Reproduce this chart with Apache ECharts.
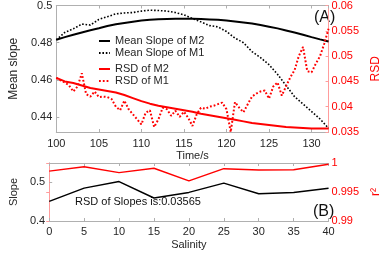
<!DOCTYPE html>
<html><head><meta charset="utf-8">
<script src="https://cdn.jsdelivr.net/npm/echarts@6/dist/echarts.min.js"></script>
<style>html,body{margin:0;padding:0;background:#fff}#c{width:390px;height:254px}</style>
</head><body><div id="c"></div>
<script>
// ---- Panel (A) data ----
const timeA = [100,101,102,103,104,105,106,107,108,109,110,111,112,113,114,115,116,117,118,119,120,121,122,123,124,125,126,127,128,129,130,131,132];
const meanSlopeM2 = [0.4816,0.4830,0.4843,0.4855,0.4867,0.4878,0.4890,0.4899,0.4906,0.4913,0.4919,0.4923,0.4926,0.4928,0.4929,0.4929,0.4929,0.4927,0.4925,0.4923,0.4919,0.4914,0.4909,0.4903,0.4895,0.4886,0.4877,0.4866,0.4855,0.4843,0.4830,0.4818,0.4807];
const meanSlopeM1 = [0.4815,0.4855,0.4875,0.4900,0.4895,0.4925,0.4940,0.4955,0.4960,0.4962,0.4970,0.4975,0.4973,0.4970,0.4962,0.4950,0.4930,0.4912,0.4892,0.4885,0.4860,0.4825,0.4800,0.4752,0.4720,0.4682,0.4630,0.4570,0.4510,0.4470,0.4430,0.4390,0.4340];
const rsdM2 = [0.0457,0.0450,0.0447,0.0442,0.0437,0.0434,0.0431,0.0428,0.0423,0.0417,0.0411,0.0406,0.0402,0.0399,0.0396,0.0393,0.0390,0.0386,0.0383,0.0380,0.0377,0.0374,0.0371,0.0368,0.0366,0.0364,0.0362,0.0360,0.0359,0.0358,0.0357,0.0357,0.0357];
const timeB = [100,100.5,101,101.5,102,102.5,103,103.5,104,104.5,105,105.5,106,106.5,107,107.5,108,108.5,109,109.5,110,110.5,111,111.5,112,112.5,113,113.5,114,114.5,115,115.5,116,116.5,117,117.5,118,118.5,119,119.5,120,120.5,121,121.5,122,122.5,123,123.5,124,124.5,125,125.5,126,126.5,127,127.5,128,128.5,129,129.5,130,130.5,131,131.5,132];
const rsdM1 = [0.0457,0.0452,0.0448,0.0442,0.0430,0.0440,0.0466,0.0425,0.0420,0.0430,0.0419,0.0420,0.0419,0.0415,0.0400,0.0393,0.0412,0.0395,0.0385,0.0375,0.0365,0.0388,0.0393,0.0360,0.0375,0.0398,0.0395,0.0382,0.0392,0.0380,0.0390,0.0378,0.0362,0.0385,0.0398,0.0396,0.0400,0.0402,0.0405,0.0408,0.0395,0.0350,0.0409,0.0398,0.0389,0.0405,0.0420,0.0426,0.0430,0.0432,0.0416,0.0440,0.0448,0.0422,0.0440,0.0458,0.0472,0.0500,0.0518,0.0470,0.0468,0.0485,0.0500,0.0525,0.0554];
const leftTicksA = [0.44,0.46,0.48,0.5];
// ---- Panel (B) data ----
const salinity = [0,5,10,15,20,25,30,35,40];
const slopes = [0.4508,0.485,0.502,0.4595,0.474,0.498,0.4705,0.474,0.485];
const r2 = [0.9986,0.99937,0.99834,0.9991,0.99692,0.99903,0.9988,0.99885,0.9998];
const rsdText = 'RSD of Slopes is:0.03565';

const pairs = (xs, ys) => xs.map((x, i) => [x, ys[i]]);
const FONT = '"Liberation Sans", Arial, sans-serif';
const TXT = '#262626';
const AX = '#b0b0b0';
const RED = '#ff0000';
const RAX = '#ff9c9c';

function xAx(grid, pos, min, max, opts) {
  return Object.assign({
    type: 'value', gridIndex: grid, position: pos, min: min, max: max, interval: 5,
    axisLine: { show: true, onZero: false, lineStyle: { color: AX, width: 1 } },
    axisTick: { show: true, inside: true, length: 3, lineStyle: { color: AX } },
    splitLine: { show: false },
    axisLabel: pos === 'bottom' ? { show: true, color: TXT, fontSize: 11, fontFamily: FONT, margin: 6, showMaxLabel: false } : { show: false }
  }, opts || {});
}

const legendCommon = {
  orient: 'vertical', left: 98, itemWidth: 11, itemHeight: 8, itemGap: 0, padding: 0,
  itemStyle: { opacity: 0 },
  textStyle: { color: TXT, fontSize: 11, fontFamily: FONT, lineHeight: 12 }
};

const chart = echarts.init(document.getElementById('c'), null, { renderer: 'canvas' });
chart.setOption({
  animation: false,
  backgroundColor: '#fff',
  textStyle: { fontFamily: FONT },
  grid: [
    { left: 37, right: 47, top: 5, height: 127 },
    { left: 37, right: 47, top: 163, height: 58 }
  ],
  xAxis: [
    xAx(0, 'bottom', 100, 132, { name: 'Time/s', nameLocation: 'middle', nameGap: 18, nameTextStyle: { color: TXT, fontSize: 11, fontFamily: FONT } }),
    xAx(0, 'top', 100, 132),
    xAx(1, 'bottom', 0, 40, { name: 'Salinity', nameLocation: 'middle', nameGap: 18, nameTextStyle: { color: TXT, fontSize: 11, fontFamily: FONT }, axisLabel: { color: TXT, fontSize: 11, fontFamily: FONT, margin: 5 } }),
    xAx(1, 'top', 0, 40)
  ],
  yAxis: [
    { type: 'value', gridIndex: 0, position: 'left', min: 0.432, max: 0.5,
      name: 'Mean slope', nameLocation: 'middle', nameGap: 24, nameRotate: 90,
      nameTextStyle: { color: TXT, fontSize: 12, fontFamily: FONT },
      axisLine: { show: true, lineStyle: { color: AX } },
      axisTick: { show: true, inside: true, length: 3, customValues: leftTicksA, lineStyle: { color: AX } },
      axisLabel: { color: TXT, fontSize: 11, fontFamily: FONT, margin: 4, customValues: leftTicksA },
      splitLine: { show: false } },
    { type: 'value', gridIndex: 0, position: 'right', min: 0.035, max: 0.06, interval: 0.005,
      name: 'RSD', nameLocation: 'middle', nameGap: 33, nameRotate: 90,
      nameTextStyle: { color: RED, fontSize: 12, fontFamily: FONT },
      axisLine: { show: true, lineStyle: { color: RAX } },
      axisTick: { show: true, inside: true, length: 3, lineStyle: { color: RAX } },
      axisLabel: { color: RED, fontSize: 11, fontFamily: FONT, margin: 3 },
      splitLine: { show: false } },
    { type: 'value', gridIndex: 1, position: 'left', min: 0.4, max: 0.55, interval: 0.1,
      name: 'Slope', nameLocation: 'middle', nameGap: 20, nameRotate: 90,
      nameTextStyle: { color: TXT, fontSize: 11, fontFamily: FONT },
      axisLine: { show: true, lineStyle: { color: AX } },
      axisTick: { show: true, inside: true, length: 3, lineStyle: { color: AX } },
      axisLabel: { color: TXT, fontSize: 11, fontFamily: FONT, margin: 4, showMaxLabel: false },
      splitLine: { show: false } },
    { type: 'value', gridIndex: 1, position: 'right', min: 0.99, max: 1, interval: 0.005,
      name: 'r²', nameLocation: 'middle', nameGap: 34, nameRotate: 90,
      nameTextStyle: { color: RED, fontSize: 12, fontFamily: FONT },
      axisLine: { show: true, lineStyle: { color: RAX } },
      axisTick: { show: true, inside: true, length: 3, lineStyle: { color: RAX } },
      axisLabel: { color: RED, fontSize: 11, fontFamily: FONT, margin: 3 },
      splitLine: { show: false } }
  ],
  legend: [
    Object.assign({ data: ['Mean Slope of M2', 'Mean Slope of M1'], top: 35 }, legendCommon),
    Object.assign({ data: ['RSD of M2', 'RSD of M1'], top: 63 }, legendCommon)
  ],
  graphic: [
    { type: 'text', left: 314, top: 10, style: { text: '(A)', fontSize: 16, fontFamily: FONT, fill: '#111' } },
    { type: 'text', left: 313, top: 204, style: { text: '(B)', fontSize: 16, fontFamily: FONT, fill: '#111' } },
    { type: 'text', left: 75, top: 196, style: { text: rsdText, fontSize: 11, fontFamily: FONT, fill: '#111' } }
  ],
  series: [
    { name: 'Mean Slope of M2', type: 'line', xAxisIndex: 0, yAxisIndex: 0, data: pairs(timeA, meanSlopeM2),
      showSymbol: false, symbol: 'none', lineStyle: { color: '#000', width: 2 }, itemStyle: { color: '#000' } },
    { name: 'Mean Slope of M1', type: 'line', xAxisIndex: 0, yAxisIndex: 0, data: pairs(timeA, meanSlopeM1),
      showSymbol: false, symbol: 'none', lineStyle: { color: '#000', width: 1.6, type: [1.6, 1.8] }, itemStyle: { color: '#000' } },
    { name: 'RSD of M2', type: 'line', xAxisIndex: 0, yAxisIndex: 1, data: pairs(timeA, rsdM2),
      showSymbol: false, symbol: 'none', lineStyle: { color: RED, width: 2 }, itemStyle: { color: RED } },
    { name: 'RSD of M1', type: 'line', xAxisIndex: 0, yAxisIndex: 1, data: pairs(timeB, rsdM1),
      showSymbol: false, symbol: 'none', lineStyle: { color: RED, width: 2, type: [1.8, 2] }, itemStyle: { color: RED } },
    { name: 'Slope', type: 'line', xAxisIndex: 2, yAxisIndex: 2, data: pairs(salinity, slopes),
      showSymbol: false, symbol: 'none', lineStyle: { color: '#000', width: 1.5 } },
    { name: 'r2', type: 'line', xAxisIndex: 2, yAxisIndex: 3, data: pairs(salinity, r2),
      showSymbol: false, symbol: 'none', lineStyle: { color: RED, width: 1.5 } }
  ]
});
</script></body></html>
